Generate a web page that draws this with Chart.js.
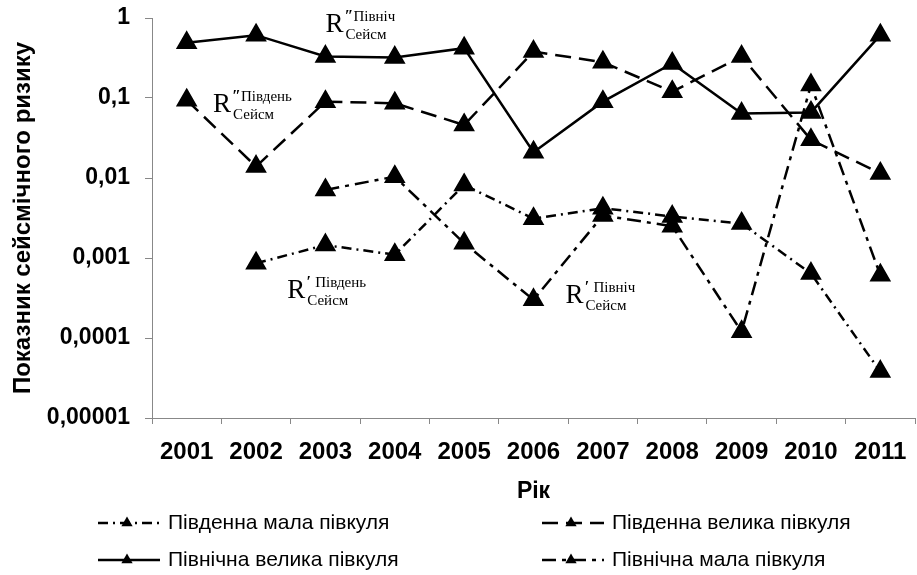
<!DOCTYPE html>
<html>
<head>
<meta charset="utf-8">
<script src="https://cdn.jsdelivr.net/npm/chart.js@4"></script>
<style>
  body { margin: 0; background: #fff; }
  canvas { display: block; }
</style>
</head>
<body>
<canvas id="chart" width="917" height="575"></canvas>
<script>
// Роки та значення показника сейсмічного ризику
const years = ['2001', '2002', '2003', '2004', '2005', '2006', '2007', '2008', '2009', '2010', '2011'];
const yTicks = [1, 0.1, 0.01, 0.001, 0.0001, 0.00001];
const yTickLabels = ['1', '0,1', '0,01', '0,001', '0,0001', '0,00001'];

const pivdMala   = [null, 0.00086, 0.00145, 0.0011, 0.0082, 0.0031, 0.0042, 0.0033, 0.0027, 0.00064, 0.000038];
const pivdVelyka = [0.094, 0.0139, 0.09, 0.086, 0.046, 0.38, 0.28, 0.12, 0.33, 0.030, 0.0114];
const pivnVelyka = [0.49, 0.61, 0.33, 0.32, 0.42, 0.021, 0.09, 0.27, 0.064, 0.066, 0.61];
const pivnMala   = [null, null, 0.0071, 0.0104, 0.00153, 0.0003, 0.0034, 0.0025, 0.00012, 0.145, 0.00061];

const SANS = '"Liberation Sans", Arial, sans-serif';
const SERIF = '"Liberation Serif", "Times New Roman", serif';

const line = (label, data, dash) => ({
  label,
  data,
  borderColor: '#000',
  backgroundColor: '#000',
  borderWidth: 2.5,
  borderDash: dash,
  pointStyle: 'triangle',
  pointRadius: 10,
  pointBackgroundColor: '#000',
  pointBorderColor: '#000',
  tension: 0
});

// R-позначки біля кривих: індекс категорії, значення на осі, тексти
const notes = [
  { i: 2.0,  v: 0.67,    prime: '″', top: 'Північ' },
  { i: 0.38, v: 0.067,   prime: '″', top: 'Південь' },
  { i: 1.45, v: 0.00032, prime: '′', top: 'Південь' },
  { i: 5.46, v: 0.00027, prime: '′', top: 'Північ' }
];

const notesPlugin = {
  id: 'notes',
  afterDatasetsDraw(chart) {
    const { ctx, scales: { x, y } } = chart;
    ctx.save();
    ctx.fillStyle = '#000';
    ctx.textBaseline = 'alphabetic';
    notes.forEach(n => {
      const px = x.getPixelForValue(n.i);
      const py = y.getPixelForValue(n.v);
      ctx.font = '27px ' + SERIF;
      ctx.fillText('R', px, py);
      ctx.font = 'italic bold 16px ' + SERIF;
      ctx.fillText(n.prime, px + 19, py - 11);
      ctx.font = '15px ' + SERIF;
      ctx.fillText(n.top, px + 28, py - 11);
      ctx.fillText('Сейсм', px + 20, py + 7);
    });
    ctx.restore();
  }
};

// легенда у дві колонки під віссю
const legendSlots = [
  { ds: 0, col: 0, row: 0 },
  { ds: 1, col: 1, row: 0 },
  { ds: 2, col: 0, row: 1 },
  { ds: 3, col: 1, row: 1 }
];

const legendPlugin = {
  id: 'twoColLegend',
  afterDraw(chart) {
    const { ctx } = chart;
    const colX = [98, 542];
    const rowY = [523, 560];
    ctx.save();
    legendSlots.forEach(s => {
      const ds = chart.data.datasets[s.ds];
      const x0 = colX[s.col];
      const y0 = rowY[s.row];
      ctx.strokeStyle = '#000';
      ctx.lineWidth = 2.5;
      ctx.setLineDash(ds.borderDash || []);
      ctx.beginPath();
      ctx.moveTo(x0, y0);
      ctx.lineTo(x0 + 62, y0);
      ctx.stroke();
      ctx.setLineDash([]);
      const cx = x0 + 29, r = 6.5;
      ctx.fillStyle = '#000';
      ctx.beginPath();
      ctx.moveTo(cx, y0 - r);
      ctx.lineTo(cx + r * 0.87, y0 + r * 0.5);
      ctx.lineTo(cx - r * 0.87, y0 + r * 0.5);
      ctx.closePath();
      ctx.fill();
      ctx.font = '21px ' + SANS;
      ctx.textBaseline = 'middle';
      ctx.fillText(ds.label, x0 + 70, y0);
    });
    ctx.restore();
  }
};

new Chart(document.getElementById('chart'), {
  type: 'line',
  data: {
    labels: years,
    datasets: [
      line('Південна мала півкуля', pivdMala, [10, 5, 2, 5]),
      line('Південна велика півкуля', pivdVelyka, [16, 8]),
      line('Північна велика півкуля', pivnVelyka, []),
      line('Північна мала півкуля', pivnMala, [14, 6, 4, 6])
    ]
  },
  options: {
    responsive: false,
    animation: false,
    events: [],
    layout: { autoPadding: false, padding: { top: 18, right: 2, bottom: 66, left: 0 } },
    plugins: {
      legend: { display: false },
      tooltip: { enabled: false }
    },
    scales: {
      x: {
        offset: true,
        grid: { offset: true, drawOnChartArea: false, tickLength: 6, color: '#888' },
        border: { color: '#888', width: 1 },
        ticks: {
          color: '#000',
          padding: 14,
          maxRotation: 0,
          font: { family: SANS, size: 24, weight: 'bold' }
        },
        title: {
          display: true,
          text: 'Рік',
          color: '#000',
          padding: 4,
          font: { family: SANS, size: 23, weight: 'bold' }
        },
        afterFit(scale) {
          scale.height = 91;
          scale.paddingLeft = 0;
          scale.paddingRight = 0;
        }
      },
      y: {
        type: 'logarithmic',
        min: 0.00001,
        max: 1,
        grid: { drawOnChartArea: false, tickLength: 7, color: '#888' },
        border: { color: '#888', width: 1 },
        afterBuildTicks(scale) {
          scale.ticks = yTicks.map(v => ({ value: v }));
        },
        ticks: {
          color: '#000',
          padding: 15,
          font: { family: SANS, size: 23, weight: 'bold' },
          callback(value) {
            const k = yTicks.findIndex(t => Math.abs(t - value) / t < 1e-6);
            return k >= 0 ? yTickLabels[k] : '';
          }
        },
        title: {
          display: true,
          text: 'Показник сейсмічного ризику',
          color: '#000',
          padding: { top: 9, bottom: 0 },
          font: { family: SANS, size: 24, weight: 'bold' }
        },
        afterFit(scale) {
          scale.width = 152;
          scale.paddingTop = 0;
          scale.paddingBottom = 0;
        }
      }
    }
  },
  plugins: [notesPlugin, legendPlugin]
});
</script>
</body>
</html>
